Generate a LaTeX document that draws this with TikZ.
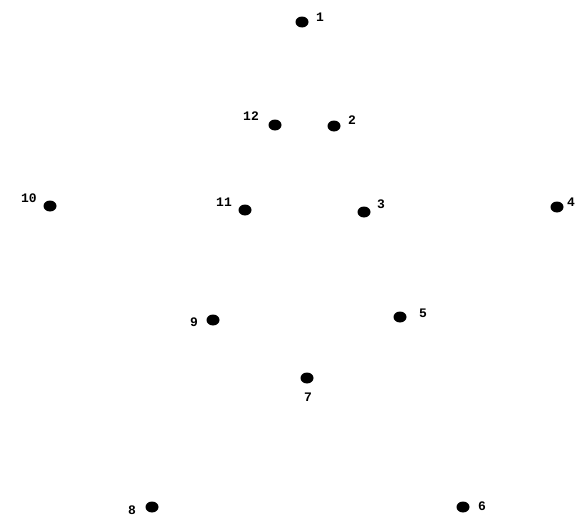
\documentclass[tikz,border=0pt]{standalone}
\usepackage{fontspec}
\setmonofont{Liberation Mono}
\usetikzlibrary{shapes.geometric}
\begin{document}
\begin{tikzpicture}[x=1pt,y=-1pt,
  pt/.style={ellipse,fill=black,inner sep=0pt,minimum width=13pt,minimum height=11pt},
  num/.style={font=\ttfamily\bfseries\fontsize{13}{13}\selectfont,inner sep=0pt}]
\useasboundingbox (0,0) rectangle (584,522);
\node[pt] (p1) at (302,22) {};
\node[pt] (p12) at (275,125) {};
\node[pt] (p2) at (334,126) {};
\node[pt] (p10) at (50,206) {};
\node[pt] (p11) at (245,210) {};
\node[pt] (p3) at (364,212) {};
\node[pt] (p4) at (557,207) {};
\node[pt] (p9) at (213,320) {};
\node[pt] (p5) at (400,317) {};
\node[pt] (p7) at (307,378) {};
\node[pt] (p8) at (152,507) {};
\node[pt] (p6) at (463,507) {};
\node[num] (l1) at (320,17) {1};
\node[num] (l12) at (251,116) {12};
\node[num] (l2) at (352,120) {2};
\node[num] (l10) at (29,198) {10};
\node[num] (l11) at (224,202) {11};
\node[num] (l3) at (381,204) {3};
\node[num] (l4) at (571,202) {4};
\node[num] (l9) at (194,322) {9};
\node[num] (l5) at (423,313) {5};
\node[num] (l7) at (308,397) {7};
\node[num] (l8) at (132,510) {8};
\node[num] (l6) at (482,506) {6};
\end{tikzpicture}
\end{document}
